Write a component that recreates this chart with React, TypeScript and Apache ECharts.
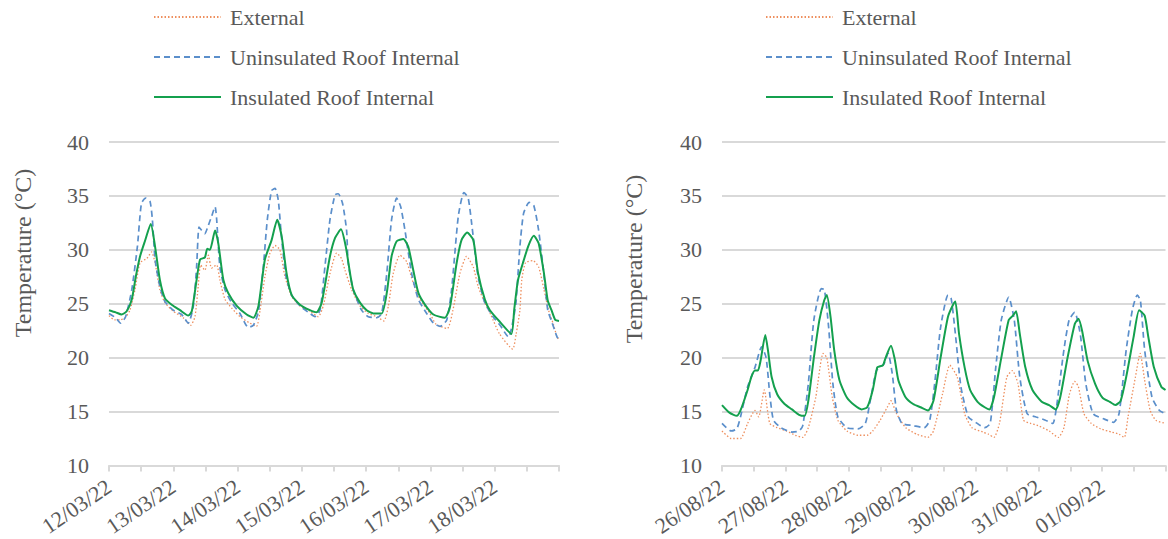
import React, { useEffect, useRef } from "react";
import * as echarts from "echarts";

const seriesNames = ["External", "Uninsulated Roof Internal", "Insulated Roof Internal"];
const marchDates = ["12/03/22", "13/03/22", "14/03/22", "15/03/22", "16/03/22", "17/03/22", "18/03/22"];
const augDates = ["26/08/22", "27/08/22", "28/08/22", "29/08/22", "30/08/22", "31/08/22", "01/09/22"];
const yMin = 10;
const yMax = 40;
const yStep = 5;
const hoursSpan = 168;

// [hour since first label, temperature °C]
const externalMarch = [[0,23.9],[2,23.5],[4.1,23.5],[6,23.7],[7.8,24.4],[9.7,26.3],[11.6,28.8],[14.1,29.2],[15.9,29.8],[17.2,28.8],[19,26.3],[20.9,25.1],[24,24.3],[27.7,23.7],[30.5,23.0],[32.1,23.8],[33.3,26.6],[34.2,28.6],[35.8,28.1],[37.1,29.5],[38.3,28.3],[40.2,28.6],[41.4,27.2],[43.3,25.4],[45.8,24.6],[48.9,23.8],[52.6,23.2],[55.1,22.9],[56.4,24.4],[58.2,27.5],[60.1,29.7],[62,30.4],[63.8,30.0],[65.7,27.5],[68.2,25.7],[71.3,24.8],[75,24.3],[78.1,23.8],[80,24.8],[82.5,27.8],[85,29.7],[86.8,29.2],[88.1,28.1],[90.6,26.3],[93.7,24.8],[96.8,24.1],[99.9,23.8],[102.6,23.4],[104.3,24.8],[106.1,27.8],[108.6,29.5],[111.1,28.9],[113.6,26.9],[116.1,25.4],[119.8,24.1],[122.1,23.1],[126.3,22.7],[128.4,24.4],[131,27.8],[133.5,29.4],[136,28.4],[137.8,26.6],[140.3,25.1],[142.5,24.0],[145.8,22.2],[150.7,20.8],[152,22.2],[153.4,24.4],[154.1,27.2],[155.5,28.8],[158.3,29.0],[160.4,28.4],[162.4,26.3],[164.1,24.4],[165.9,23.1],[167.3,21.9],[168,21.7]];
const uninsulatedMarch = [[0,24.1],[2.5,23.7],[4.3,23.2],[6.2,23.8],[8.5,26.3],[10.6,30.3],[12.1,34.3],[13.7,34.8],[15.3,34.5],[16.2,32.8],[17.2,29.1],[19,26.6],[20.9,25.2],[24,24.4],[27.1,24.0],[29.6,23.2],[31.5,24.8],[32.7,28.4],[33.6,32.1],[34.6,31.8],[35.8,31.5],[36.7,32.0],[38.3,33.1],[39.6,34.0],[40.2,32.8],[41.4,28.4],[43.3,26.3],[45.8,25.1],[48.9,24.1],[52,22.8],[53.9,23.0],[55.8,24.3],[57.6,28.4],[59.1,32.8],[60.7,35.5],[62,35.7],[63.2,34.6],[64.5,30.9],[66.1,27.5],[68.2,25.8],[71.3,24.8],[75,24.1],[76.9,23.8],[78.8,24.4],[80.6,28.4],[82.5,32.8],[84.4,35.1],[85.6,35.2],[87.2,34.3],[88.7,31.8],[89.3,28.8],[91.2,26.3],[94.3,24.4],[96.8,23.8],[99.9,23.7],[101.8,24.1],[103.7,27.8],[105.5,32.8],[107.4,34.8],[108.9,34.0],[110.5,31.8],[113,27.8],[115.5,25.4],[118.6,24.1],[121.1,23.2],[123.6,22.9],[126.1,23.5],[127.9,26.3],[130.4,33.1],[132.5,35.3],[134.1,34.8],[135.7,31.8],[137.8,27.5],[140.3,25.1],[143.4,23.8],[146,23.0],[149.2,21.9],[150.5,23.0],[151.9,25.0],[153.4,30.3],[154.8,33.4],[156.9,34.4],[158.6,34.1],[160.4,31.8],[162.2,28.1],[163.8,24.4],[165.2,23.4],[167.3,21.9],[168,21.7]];
const insulatedMarch = [[0,24.4],[2.5,24.2],[4.7,24.0],[6.6,24.3],[8.5,25.4],[10,27.5],[11.6,29.4],[13.4,30.8],[15.6,32.4],[17.2,30.3],[19,27.2],[20.9,25.5],[23.4,24.9],[26.5,24.4],[29.6,23.9],[30.9,24.3],[32.7,27.2],[34,29.1],[35.8,29.3],[36.7,30.1],[37.7,30.0],[39.6,31.8],[40.8,30.6],[42.7,27.2],[44.5,26.0],[47.7,24.8],[51.4,24.0],[53.9,23.7],[55.8,24.8],[58.2,29.1],[60.7,30.9],[62.8,32.8],[64.5,31.2],[66.3,27.8],[68.2,25.8],[71.3,24.9],[75,24.4],[77.5,24.2],[79.4,25.1],[82.5,29.4],[84.4,31.1],[86.6,31.9],[88.4,30.3],[90,27.8],[91.2,26.3],[93.7,25.1],[96.2,24.4],[98.7,24.1],[101.8,24.1],[103.7,26.0],[105.5,29.4],[107.4,30.8],[109.9,31.0],[111.7,30.3],[113.6,28.1],[115.5,26.0],[118,24.9],[121.1,24.0],[125.4,23.7],[127.3,24.7],[129.8,28.8],[131.6,30.9],[133.7,31.6],[136,30.9],[137.8,27.8],[140.3,25.4],[142.2,24.4],[146,23.3],[150.2,22.2],[151.3,24.5],[152.7,27.2],[154.8,29.0],[156.6,30.4],[158.6,31.3],[160.4,30.6],[162.4,27.8],[163.8,25.3],[165.2,24.4],[166.6,23.5],[168,23.4]];

const externalAug = [[0,13.2],[3.5,12.5],[7,12.5],[9.7,13.9],[12.5,15.1],[13.9,14.5],[16,17.0],[18.1,13.9],[20.9,13.5],[24.4,13.2],[27.8,12.8],[30.6,12.6],[32.7,13.5],[35.5,16.3],[38.3,20.4],[39.7,20.0],[41.8,16.3],[43.9,14.2],[47.3,13.2],[51.5,12.8],[55,12.8],[57.1,13.2],[59.9,14.2],[62.6,15.4],[64,16.0],[66.1,14.8],[69.6,13.5],[73.8,12.9],[78,12.6],[80.1,13.2],[83.5,16.6],[86.3,19.3],[89.1,18.2],[91.9,14.8],[94.7,13.5],[98.8,13.1],[100.9,12.9],[103,12.6],[105.1,13.9],[107.9,18.2],[110,18.8],[112.1,17.6],[114.2,14.2],[116.9,13.9],[119.7,13.7],[123.9,13.2],[127.4,12.6],[129.5,13.5],[131.6,16.6],[133.6,17.8],[135,17.3],[137.1,14.8],[139.9,13.9],[143.4,13.4],[147.6,13.1],[150.4,12.9],[152.4,12.6],[153.8,14.5],[156.6,18.2],[158.4,20.4],[160.1,17.9],[162.2,15.1],[164.3,14.2],[168,13.9]];
const uninsulatedAug = [[0,13.9],[3.5,13.2],[5.6,13.4],[7,14.5],[9.7,17.3],[12.5,19.1],[15,21.0],[16.7,20.0],[18.1,16.6],[19.5,14.2],[22.3,13.5],[26.5,13.1],[29.2,13.2],[30.6,13.7],[32.7,17.6],[34.8,23.5],[37.6,26.4],[38.8,26.3],[40.4,22.8],[42,17.6],[43.9,14.5],[47.3,13.5],[51.5,13.4],[54.3,13.9],[56.4,16.3],[58.5,18.8],[61.3,19.4],[62.9,20.4],[64.5,18.5],[66.1,15.1],[68.2,13.9],[72.4,13.7],[76.6,13.5],[78.7,14.2],[80.7,17.9],[82.8,22.8],[85.6,25.8],[86.8,25.5],[88.4,22.2],[90.5,17.3],[93.3,14.5],[96.1,14.0],[99.5,13.5],[101.6,13.9],[103.7,19.1],[105.8,23.5],[108.6,25.6],[110.7,23.5],[112.8,18.2],[115.6,14.8],[119,14.5],[122.5,14.2],[125.3,13.9],[126.7,15.4],[129.5,20.7],[131.5,23.5],[133.6,24.2],[135.7,22.2],[137.8,17.6],[140.6,14.8],[144.8,14.3],[148.3,14.0],[150.4,14.8],[153.1,20.7],[155.5,24.5],[157.3,25.8],[158.5,25.3],[160.1,20.7],[162.9,16.3],[165.7,15.1],[168,14.8]];
const insulatedAug = [[0,15.6],[2.8,14.9],[5.6,14.6],[7,15.1],[9.7,17.0],[11.1,18.2],[12.5,18.8],[13.6,18.8],[14.6,19.7],[16.4,22.1],[17.4,20.7],[18.8,18.2],[20.9,16.6],[23.7,15.7],[26.5,15.2],[29.2,14.7],[31.3,14.6],[32.7,16.0],[34.8,20.0],[36.9,23.5],[38.7,25.3],[39.7,25.8],[41.1,23.8],[42.5,20.7],[44.5,17.9],[47.3,16.3],[50.1,15.6],[52.9,15.2],[55,15.4],[57.1,17.0],[58.8,19.1],[59.9,19.2],[61,19.3],[62,20.0],[64,21.1],[65.4,19.9],[66.8,17.9],[69.6,16.3],[72.4,15.7],[75.2,15.4],[78,15.1],[80.1,16.0],[82.8,20.0],[85.6,23.8],[87.7,25.0],[88.4,25.2],[89.8,22.2],[91.9,19.1],[94,17.0],[96.8,15.9],[99.5,15.4],[101.3,15.2],[103,16.3],[105.8,20.0],[108.6,23.5],[110.2,23.9],[111.4,24.3],[112.8,22.2],[114.9,19.1],[117.6,17.0],[121.1,15.9],[123.9,15.6],[126.4,15.2],[128.1,16.3],[130.9,20.0],[133.6,23.1],[135,23.6],[136.4,22.5],[138.5,19.7],[141.3,17.6],[144.1,16.3],[146.9,15.9],[149,15.6],[151,16.0],[153.1,18.2],[155.9,21.9],[158,24.4],[160.1,23.9],[161.5,21.9],[163.6,19.1],[166.4,17.3],[168,17.0]];

const FONT = "Liberation Serif";
const TEXT = "#595959";
const GRID = "#d9d9d9";
const COLORS = ["#EE8F5E", "#5B8FCB", "#14A04E"];
const LINE_STYLES: any[] = [
  { color: COLORS[0], width: 1.3, type: [1.5, 2] },
  { color: COLORS[1], width: 1.7, type: [6, 4] },
  { color: COLORS[2], width: 2, type: "solid" },
];

function xAxisFor(idx: number, dates: string[]) {
  return {
    type: "value",
    gridIndex: idx,
    min: 0,
    max: hoursSpan,
    interval: 12,
    axisLine: { show: true, lineStyle: { color: GRID, width: 2 } },
    axisTick: { show: true, length: 6, lineStyle: { color: GRID, width: 2 } },
    splitLine: { show: false },
    axisLabel: {
      rotate: 34,
      margin: 19,
      fontSize: 22,
      color: TEXT,
      fontFamily: FONT,
      showMaxLabel: true,
      showMinLabel: true,
      formatter: (v: number) => {
        const d = v / 24;
        return Number.isInteger(d) && d < dates.length ? dates[d] : "";
      },
    },
  };
}

function yAxisFor(idx: number) {
  return {
    type: "value",
    gridIndex: idx,
    min: yMin,
    max: yMax,
    interval: yStep,
    axisLine: { show: false },
    axisTick: { show: false },
    splitLine: { show: true, lineStyle: { color: GRID, width: 2 } },
    axisLabel: { fontSize: 22, color: TEXT, fontFamily: FONT, margin: 20 },
  };
}

function legendFor(left: number) {
  return {
    left,
    top: 5,
    orient: "vertical",
    itemWidth: 67,
    itemHeight: 14,
    itemGap: 16,
    padding: 0,
    data: seriesNames,
    itemStyle: { opacity: 0, borderWidth: 0 },
    textStyle: { fontSize: 22, color: TEXT, fontFamily: FONT, padding: [0, 0, 0, 4], lineHeight: 24 },
  };
}

export default function App() {
  const ref = useRef<HTMLDivElement>(null);
  useEffect(() => {
    if (!ref.current) return;
    const chart = echarts.init(ref.current, undefined, { renderer: "svg" });
    const datasets = [
      [externalMarch, uninsulatedMarch, insulatedMarch],
      [externalAug, uninsulatedAug, insulatedAug],
    ];
    const series: any[] = [];
    datasets.forEach((group, gi) => {
      group.forEach((data, si) => {
        series.push({
          type: "line",
          name: seriesNames[si],
          xAxisIndex: gi,
          yAxisIndex: gi,
          data,
          symbol: "none",
          showSymbol: false,
          smooth: 0.2,
          lineStyle: LINE_STYLES[si],
          itemStyle: { color: COLORS[si] },
          z: 2 + si,
        });
      });
    });
    chart.setOption({
      animation: false,
      backgroundColor: "#ffffff",
      textStyle: { fontFamily: FONT },
      grid: [
        { left: 109, width: 450, top: 142, bottom: 73, containLabel: false },
        { left: 722, width: 450, top: 142, bottom: 73, containLabel: false },
      ],
      xAxis: [xAxisFor(0, marchDates), xAxisFor(1, augDates)],
      yAxis: [yAxisFor(0), yAxisFor(1)],
      legend: [legendFor(153), legendFor(765)],
      graphic: [
        {
          type: "text",
          x: 23,
          y: 253,
          rotation: Math.PI / 2,
          style: { text: "Temperature (°C)", fontSize: 24, fill: TEXT, fontFamily: FONT, align: "center", verticalAlign: "middle" },
        },
        {
          type: "text",
          x: 634,
          y: 259,
          rotation: Math.PI / 2,
          style: { text: "Temperature (°C)", fontSize: 24, fill: TEXT, fontFamily: FONT, align: "center", verticalAlign: "middle" },
        },
      ],
      series,
    });
    return () => chart.dispose();
  }, []);
  return (
    <div
      ref={ref}
      style={{ position: "fixed", left: 0, top: 0, width: 1168, height: 539, background: "#fff" }}
    />
  );
}
